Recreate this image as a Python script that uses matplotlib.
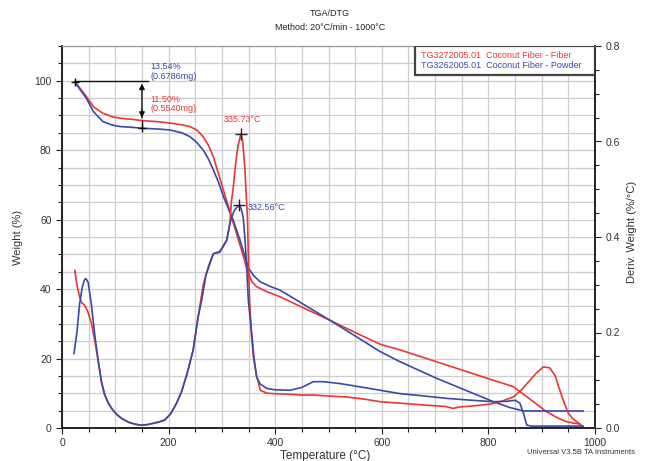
import matplotlib
matplotlib.use("Agg")
import matplotlib.pyplot as plt
from matplotlib.patches import Rectangle
from matplotlib.ticker import MultipleLocator

plt.rcParams['font.family'] = ['Liberation Sans', 'DejaVu Sans']

RED = "#ee3535"
BLUE = "#3a48a8"

# weight loss curves (left axis, %)
fiber_tga_t = [24, 35, 46, 59, 77, 95, 109, 130, 152, 180, 203, 225, 240, 253, 265, 275, 284,
               294, 303, 315, 328, 340, 345, 350, 356, 365, 385, 409, 450, 503, 550, 597, 634,
               700, 750, 800, 847, 878, 909, 930, 947, 960, 972]
fiber_tga_w = [99.7, 97.6, 95.4, 92.5, 90.6, 89.6, 89.2, 88.9, 88.5, 88.2, 87.8, 87.3, 86.8, 85.8,
               83.9, 81.3, 78.1, 73.0, 68.4, 62.3, 55.7, 49.6, 46.8, 44.5, 42.2, 40.7, 39.2, 37.8,
               34.8, 31.0, 27.5, 24.1, 22.5, 19.2, 16.7, 14.2, 11.9, 8.3, 4.7, 2.9, 1.8, 1.4, 1.15]

powder_tga_t = [24, 35, 46, 59, 77, 95, 109, 130, 152, 180, 203, 225, 240, 253, 265, 275, 284,
                294, 303, 321, 334, 342, 350, 360, 372, 390, 409, 450, 503, 550, 597, 634, 703,
                760, 809, 840, 866, 900, 940, 978]
powder_tga_w = [99.7, 97.2, 94.9, 91.1, 88.2, 87.2, 86.8, 86.6, 86.3, 86.1, 85.8, 85.0, 83.9, 82.2,
                80.0, 77.4, 74.3, 70.6, 66.6, 59.9, 54.1, 50.0, 46.0, 43.8, 42.1, 40.8, 39.7, 35.9,
                31.0, 26.5, 22.0, 19.1, 14.3, 10.7, 7.6, 5.9, 4.9, 4.9, 4.9, 4.9]

# derivative curves (right axis, %/°C)
fiber_dtg_t = [24, 28, 33, 37, 42, 48, 55, 62, 68, 74, 80, 87, 95, 104, 112, 125, 137, 148, 160,
               172, 183, 193, 204, 214, 224, 235, 246, 255, 265, 275, 284, 296, 309, 315, 318, 321,
               325, 330, 335.73, 339, 343, 346, 348, 350, 352, 355, 359, 365, 372, 384, 396, 420,
               450, 472, 500, 534, 570, 597, 634, 680, 720, 734, 745, 770, 803, 825, 847, 862, 878,
               890, 903, 915, 925, 934, 942, 950, 958, 966, 975]
fiber_dtg_d = [0.33, 0.30, 0.275, 0.262, 0.258, 0.245, 0.22, 0.18, 0.14, 0.095, 0.07, 0.052, 0.038,
               0.027, 0.020, 0.012, 0.008, 0.006, 0.007, 0.010, 0.013, 0.017, 0.030, 0.05, 0.075,
               0.115, 0.163, 0.23, 0.30, 0.34, 0.365, 0.370, 0.393, 0.428, 0.476, 0.50, 0.546,
               0.59, 0.616, 0.60, 0.546, 0.48, 0.44, 0.337, 0.267, 0.20, 0.149, 0.11, 0.079, 0.073,
               0.072, 0.071, 0.069, 0.069, 0.067, 0.065, 0.060, 0.055, 0.052, 0.048, 0.045, 0.041,
               0.044, 0.046, 0.050, 0.056, 0.065, 0.080, 0.100, 0.115, 0.128, 0.126, 0.11, 0.079,
               0.053, 0.031, 0.020, 0.013, 0.005]

powder_dtg_t = [22.5, 28, 33, 38, 42, 45, 49, 55, 62, 68, 74, 80, 87, 95, 104, 112, 125, 137, 148,
                160, 172, 183, 193, 204, 214, 224, 235, 246, 255, 262, 270, 284, 296, 309, 315, 318,
                323, 328, 332.56, 336, 340, 343, 346.5, 349.6, 353, 356, 360, 365, 372, 384, 400,
                428, 450, 471.5, 490, 521.6, 560, 597, 634, 680, 722, 770, 809, 835, 850, 859, 866,
                872, 880, 920, 978]
powder_dtg_d = [0.156, 0.20, 0.26, 0.295, 0.31, 0.313, 0.305, 0.26, 0.19, 0.14, 0.098, 0.07, 0.052,
                0.038, 0.027, 0.020, 0.012, 0.008, 0.006, 0.007, 0.010, 0.013, 0.017, 0.030, 0.05,
                0.075, 0.115, 0.163, 0.23, 0.267, 0.32, 0.365, 0.368, 0.393, 0.428, 0.44, 0.455,
                0.462, 0.466, 0.46, 0.441, 0.40, 0.337, 0.267, 0.23, 0.198, 0.15, 0.107, 0.092,
                0.083, 0.080, 0.079, 0.085, 0.097, 0.097, 0.093, 0.086, 0.079, 0.072, 0.067, 0.062,
                0.058, 0.055, 0.056, 0.058, 0.052, 0.030, 0.006, 0.004, 0.004, 0.004]

# peak temperatures and step analysis
fiber_peak = (335.73, 0.616)
powder_peak = (332.56, 0.466)
step_t = 150
step_start = 100.0
fiber_loss = 11.50
powder_loss = 13.54

fig = plt.figure(figsize=(6.45, 4.61), dpi=100)
ax = fig.add_axes([62 / 645, 33 / 461, 533 / 645, 382 / 461])
ax2 = ax.twinx()

ax.set_xlim(0, 1000)
ax.set_ylim(0, 110)
ax2.set_ylim(0, 0.8)

ax.xaxis.set_major_locator(MultipleLocator(200))
ax.xaxis.set_minor_locator(MultipleLocator(50))
ax.yaxis.set_major_locator(MultipleLocator(20))
ax.yaxis.set_minor_locator(MultipleLocator(5))
ax2.yaxis.set_major_locator(MultipleLocator(0.2))
ax2.yaxis.set_minor_locator(MultipleLocator(0.05))
ax2.yaxis.set_major_formatter(plt.FormatStrFormatter("%.1f"))

ax.grid(True, which="both", color="#cdcdcd", lw=0.9)
ax.set_axisbelow(True)
for a in (ax, ax2):
    a.tick_params(which="both", direction="out", labelsize=7.5, colors="#222222",
                  labelcolor="#333333", width=0.8)
    a.tick_params(which="major", length=4)
    a.tick_params(which="minor", length=3)
    for s in ("left", "right", "bottom"):
        a.spines[s].set_linewidth(1.2)
        a.spines[s].set_color("#222222")
    a.spines["top"].set_color("#999999")

ax.plot(fiber_tga_t, fiber_tga_w, color=RED, lw=1.2)
ax.plot(powder_tga_t, powder_tga_w, color=BLUE, lw=1.2)
ax2.plot(fiber_dtg_t, fiber_dtg_d, color=RED, lw=1.2)
ax2.plot(powder_dtg_t, powder_dtg_d, color=BLUE, lw=1.2)

# peak markers
ax2.plot(*fiber_peak, marker="+", color="#222222", ms=9, mew=1)
ax2.plot(*powder_peak, marker="+", color="#222222", ms=9, mew=1)
ax2.text(fiber_peak[0] + 2, fiber_peak[1] + 0.02, f"{fiber_peak[0]:.2f}°C", color=RED,
         fontsize=6.5, ha="center", va="bottom")
ax2.text(powder_peak[0] + 16, powder_peak[1] - 0.004, f"{powder_peak[0]:.2f}°C", color=BLUE,
         fontsize=6.5, ha="left", va="center")

# weight step analysis
ax.plot([24, 161], [step_start, step_start], color="#111111", lw=1)
ax.plot(24, fiber_tga_w[0], marker="+", color="#111111", ms=6)
ax.annotate("", xy=(step_t, step_start), xytext=(step_t, step_start - fiber_loss),
            arrowprops=dict(arrowstyle="-|>", color="#111111", lw=1, mutation_scale=8))
ax.annotate("", xy=(step_t, step_start - fiber_loss), xytext=(step_t, step_start - fiber_loss + 4),
            arrowprops=dict(arrowstyle="-|>", color="#111111", lw=1, mutation_scale=8))
ax.plot([step_t, step_t], [step_start - fiber_loss, step_start - powder_loss], color="#111111", lw=1)
ax.plot(step_t, step_start - powder_loss, marker="+", color="#111111", ms=6)
ax.text(166, 105.3, f"{powder_loss:.2f}%\n(0.6786mg)", color=BLUE, fontsize=6.5,
        va="top", linespacing=1.05)
ax.text(166, 96.0, f"{fiber_loss:.2f}%\n(0.5540mg)", color=RED, fontsize=6.5,
        va="top", linespacing=1.05)

# sample legend box
x0 = (415 - 62) / 533
y0 = (428 - 75) / 382
ax2.add_patch(Rectangle((x0, y0), 1 - x0, 1 - y0, transform=ax2.transAxes, facecolor="white",
                        edgecolor="#444444", lw=1.6, zorder=5))
ax2.text(x0 + 0.012, 0.974, "TG3272005.01  Coconut Fiber - Fiber", color=RED, fontsize=6.5,
         transform=ax2.transAxes, va="center", zorder=6)
ax2.text(x0 + 0.012, 0.948, "TG3262005.01  Coconut Fiber - Powder", color=BLUE, fontsize=6.5,
         transform=ax2.transAxes, va="center", zorder=6)

fig.text(330 / 645, 1 - 13 / 461, "TGA/DTG", ha="center", va="center", fontsize=6.5, color="#222222")
fig.text(330 / 645, 1 - 27 / 461, "Method: 20°C/min - 1000°C", ha="center", va="center",
         fontsize=6.5, color="#222222")
fig.text(18 / 645, 1 - 237 / 461, "Weight (%)", rotation=90, ha="center", va="center",
         fontsize=8, color="#333333")
fig.text(632 / 645, 1 - 232 / 461, "Deriv. Weight (%/°C)", rotation=90, ha="center",
         va="center", fontsize=8, color="#333333")
fig.text(325 / 645, 1 - 456 / 461, "Temperature (°C)", ha="center", va="center",
         fontsize=8.5, color="#333333")
fig.text(527 / 645, 1 - 452 / 461, "Universal V3.5B TA Instruments", ha="left", va="center",
         fontsize=5.5, color="#333333")

fig.savefig("out.png", dpi=100)
